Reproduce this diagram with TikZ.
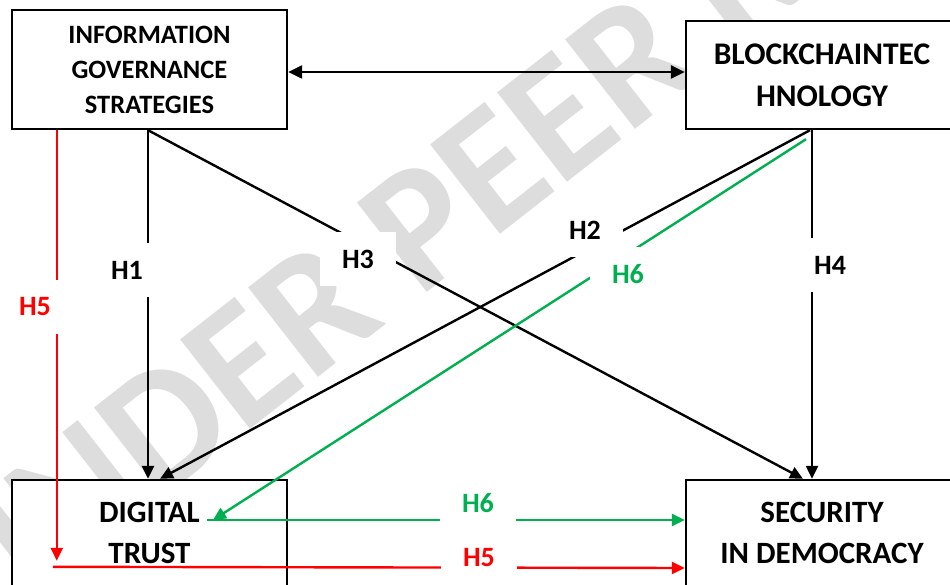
\documentclass[tikz,border=0pt]{standalone}
\usepackage{fontspec}
\setmainfont{Carlito}
\usetikzlibrary{arrows.meta}
\definecolor{wordgreen}{RGB}{0,176,80}
\definecolor{wmgray}{RGB}{221,221,221}
\tikzset{
  box/.style={draw=black, line width=2.4pt, fill=white, align=center, font=\bfseries, inner sep=0pt},
  conn/.style={line width=2.4pt, -{Triangle[length=13pt,width=12pt]}},
  hlabel/.style={fill=white, font=\fontsize{28}{30}\selectfont\bfseries, minimum width=76pt, minimum height=54pt, inner sep=0pt},
}
\begin{document}
\begin{tikzpicture}[x=1pt,y=-1pt]
\useasboundingbox (0,0) rectangle (950,585);
\clip (0,0) rectangle (950,585);
\fill[white] (0,0) rectangle (950,585);
% watermark
\node[wmgray, font=\fontsize{175}{175}\selectfont\bfseries, rotate=38, anchor=base west, inner sep=0pt] (wm) at (-25,645) {UNDER PEER REVIEW};
% boxes
\node[box, minimum width=275pt, minimum height=119pt, font=\fontsize{26.5}{35}\selectfont\bfseries] (igs) at (149.5,69.5) {INFORMATION\\GOVERNANCE\\STRATEGIES};
\node[box, minimum width=272pt, minimum height=108pt, font=\fontsize{31.5}{42}\selectfont\bfseries] (bc) at (822,75) {BLOCKCHAINTEC\\HNOLOGY};
\node[box, minimum width=275pt, minimum height=106pt, font=\fontsize{31}{41}\selectfont\bfseries] (dt) at (149.5,533) {DIGITAL\\TRUST};
\node[box, minimum width=272pt, minimum height=106pt, font=\fontsize{31}{41}\selectfont\bfseries] (sec) at (822,533) {SECURITY\\IN DEMOCRACY};
% connectors
\draw[line width=2.4pt, {Triangle[length=14pt,width=13pt]}-{Triangle[length=14pt,width=13pt]}] ([yshift=-2.5pt]igs.east) -- ([yshift=3pt]bc.west);
\draw[conn] ([xshift=-1.5pt]igs.south) -- ([xshift=-1.5pt]dt.north);
\draw[conn] ([xshift=-1.5pt]igs.south) -- ([xshift=-19pt]sec.north);
\draw[conn] ([xshift=-12pt]bc.south) -- ([xshift=10.5pt]dt.north);
\draw[conn] ([xshift=-10pt]bc.south) -- ([xshift=-10pt]sec.north);
\draw[conn, wordgreen] ([xshift=-16pt,yshift=-9pt]bc.south) -- ([xshift=63.5pt,yshift=13pt]dt.center);
\draw[conn, wordgreen] ([xshift=57.5pt,yshift=13pt]dt.center) -- ([yshift=13pt]sec.west);
\draw[conn, red] ([xshift=46pt]igs.south west) -- ([xshift=46pt,yshift=-82pt]dt.north west);
\draw[conn, red] ([xshift=42pt,yshift=-88pt]dt.north west) -- ([yshift=-35pt]sec.west);
% labels
\node[hlabel] (l1) at (127,270) {H1};
\node[hlabel] (l2) at (585,230) {H2};
\node[hlabel] (l3) at (358,259) {H3};
\node[hlabel] (l4) at (830,265) {H4};
\node[hlabel, text=red] (l5a) at (35,307) {H5};
\node[hlabel, text=wordgreen] (l6a) at (628,274) {H6};
\node[hlabel, text=wordgreen] (l6b) at (478,503) {H6};
\node[hlabel, text=red] (l5b) at (479,558) {H5};
\end{tikzpicture}
\end{document}
